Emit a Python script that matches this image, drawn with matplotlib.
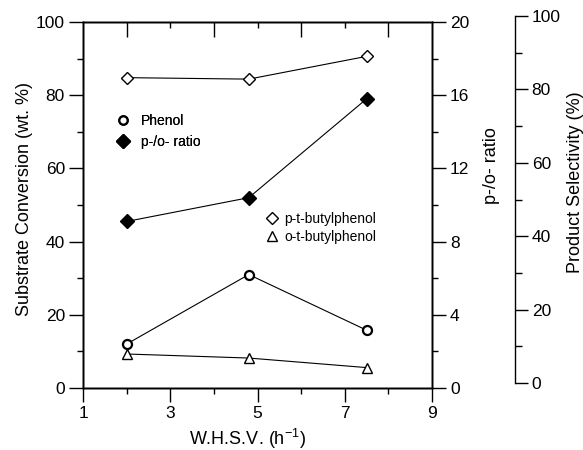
import numpy as np
import matplotlib
matplotlib.use("Agg")
import matplotlib.pyplot as plt
from matplotlib.ticker import MultipleLocator
from matplotlib.lines import Line2D

plt.rcParams['font.family'] = ['Liberation Sans', 'DejaVu Sans']
plt.rcParams['mathtext.fontset'] = 'custom'
plt.rcParams['mathtext.rm'] = 'Liberation Sans'
plt.rcParams['mathtext.it'] = 'Liberation Sans'

# data
whsv = [2.0, 4.8, 7.5]
phenol_conv = [12.0, 31.0, 15.8]        # substrate conversion, wt. %
po_ratio = [9.1, 10.4, 15.8]            # p-/o- ratio
p_tbp_sel = [83.2, 82.8, 89.0]          # product selectivity, %
o_tbp_sel = [7.9, 6.8, 4.2]             # product selectivity, %

x_major = [1, 3, 5, 7, 9]
x_minor = [2, 4, 6, 8]

fig = plt.figure(figsize=(5.83, 4.5), dpi=100)
L, B, W, H = 83/583, 62/450, 349/583, 366/450
ax = fig.add_axes([L, B, W, H])
ax2 = ax.twinx()
top = ax.twiny()
# selectivity axis sits a few pixels higher than the main frame in the original
ax3 = fig.add_axes([L, 67/450, W, 367/450])
ax3.patch.set_visible(False)

lw = 0.8
ax.plot(whsv, phenol_conv, color='black', lw=lw, marker='o', ms=6.5,
        mfc='white', mec='black', mew=1.6, zorder=3)
ax2.plot(whsv, po_ratio, color='black', lw=lw, marker='D', ms=7,
         mfc='black', mec='black', zorder=3)
ax3.plot(whsv, p_tbp_sel, color='black', lw=lw, marker='D', ms=6,
         mfc='white', mec='black', mew=1.0, zorder=3)
ax3.plot(whsv, o_tbp_sel, color='black', lw=lw, marker='^', ms=7,
         mfc='white', mec='black', mew=1.0, zorder=3)

ax.set_xlim(1, 9)
ax.set_ylim(0, 100)
ax2.set_ylim(0, 20)
ax3.set_xlim(1, 9)
ax3.set_ylim(0, 100)

tsize = 12.5
# main frame ticks
ax.set_xticks(x_major)
ax.set_xticks(x_minor, minor=True)
ax.yaxis.set_major_locator(MultipleLocator(20))
ax.yaxis.set_minor_locator(MultipleLocator(10))
ax.tick_params(which='major', direction='out', length=10, width=1, labelsize=tsize, pad=3)
ax.tick_params(which='minor', direction='out', length=4, width=1)

# top edge: ticks pointing inward, long at even values
top.set_xlim(1, 9)
top.set_xticks([2, 4, 6, 8])
top.set_xticks([3, 5, 7], minor=True)
top.tick_params(which='major', direction='in', length=11, width=1, labeltop=False)
top.tick_params(which='minor', direction='in', length=4, width=1)

ax2.yaxis.set_major_locator(MultipleLocator(4))
ax2.yaxis.set_minor_locator(MultipleLocator(2))
ax2.tick_params(which='major', direction='out', length=10, width=1, labelsize=tsize, pad=3)
ax2.tick_params(which='minor', direction='out', length=4, width=1)

for a in (ax, ax2, top):
    for s in a.spines.values():
        s.set_linewidth(1)

for s in ['left', 'top', 'bottom']:
    ax3.spines[s].set_visible(False)
ax3.spines['right'].set_position(('axes', 1 + (515 - 432) / 349))
ax3.spines['right'].set_linewidth(1)
ax3.xaxis.set_visible(False)
ax3.yaxis.tick_right()
ax3.yaxis.set_major_locator(MultipleLocator(20))
ax3.yaxis.set_minor_locator(MultipleLocator(10))
ax3.tick_params(which='major', direction='out', length=9, width=1, labelsize=tsize, pad=3)
ax3.tick_params(which='minor', direction='out', length=5, width=1)

# axis labels
lsize = 13
ax.set_xlabel('W.H.S.V. (h$^{-1}$)', fontsize=lsize)
ax.xaxis.set_label_coords(0.47, -0.106)
ax.set_ylabel('Substrate Conversion (wt. %)', fontsize=lsize)
ax.yaxis.set_label_coords(-0.143, 0.516)
ax2.set_ylabel('p-/o- ratio', fontsize=lsize)
ax2.yaxis.set_label_coords(1.146, 0.609)
ax3.yaxis.set_label_position('right')
ax3.set_ylabel('Product Selectivity (%)', fontsize=lsize)
ax3.yaxis.set_label_coords(1.387, 0.548)

# legends
h1 = [Line2D([], [], ls='none', marker='o', ms=6, mfc='white', mec='black', mew=1.6),
      Line2D([], [], ls='none', marker='D', ms=7, mfc='black', mec='black')]
leg1 = ax.legend(h1, ['Phenol', 'p-/o- ratio'], loc='upper left',
                 bbox_to_anchor=(0.095, 0.749), frameon=False, fontsize=10,
                 handlelength=1.0, handletextpad=0.8, labelspacing=0.5,
                 borderpad=0, borderaxespad=0)
ax.add_artist(leg1)
h2 = [Line2D([], [], ls='none', marker='D', ms=6, mfc='white', mec='black', mew=1.0),
      Line2D([], [], ls='none', marker='^', ms=7, mfc='white', mec='black', mew=1.0)]
leg2 = ax3.legend(h2, ['p-t-butylphenol', 'o-t-butylphenol'], loc='upper left',
                  bbox_to_anchor=(0.522, 0.467), frameon=False, fontsize=10,
                  handlelength=1.0, handletextpad=0.4, labelspacing=0.3,
                  borderpad=0, borderaxespad=0)

fig.savefig('out.png', dpi=100)
